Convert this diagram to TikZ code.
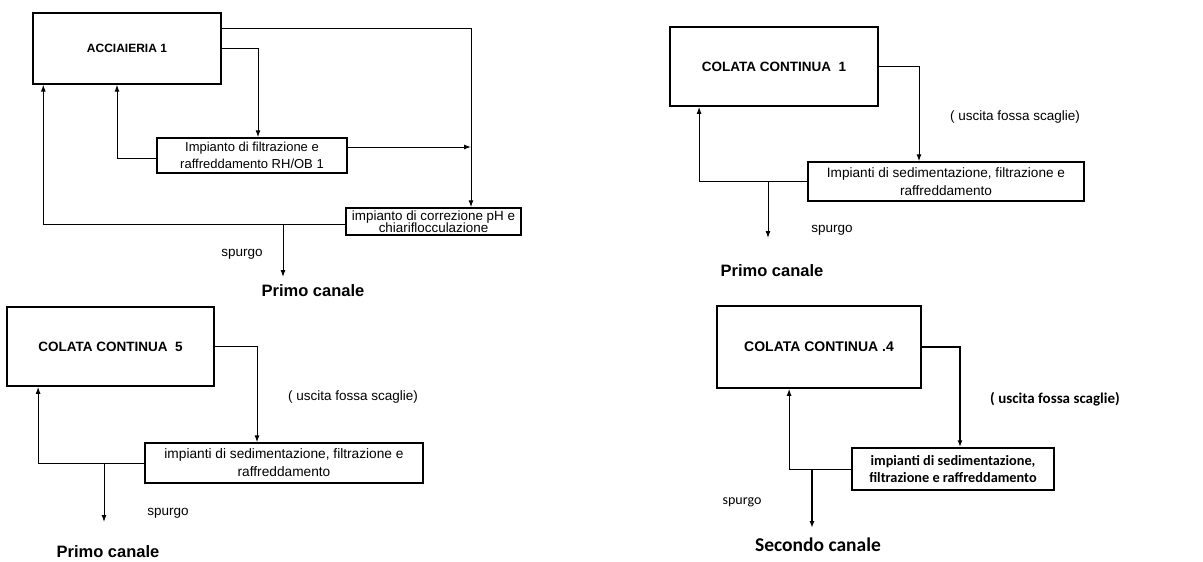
\documentclass[tikz,border=0pt]{standalone}
\usepackage{fontspec}
\setmainfont{Liberation Sans}
\newfontfamily\calfont{Carlito}
\usetikzlibrary{arrows.meta}
\begin{document}
\begin{tikzpicture}[x=1pt,y=-1pt,
  bigbox/.style={draw,line width=1.8pt,inner sep=0pt,font=\fontsize{13.5}{15}\selectfont\bfseries},
  subbox/.style={draw,line width=1.5pt,inner sep=0pt,align=center},
  conn/.style={line width=1pt},
  arr/.style={conn,-{Latex[length=7pt,width=5pt]}},
  lbl/.style={inner sep=0pt,font=\fontsize{13.5}{15}\selectfont},
  canal/.style={inner sep=0pt,font=\fontsize{16.5}{18}\selectfont\bfseries}]
\useasboundingbox (0,0) rectangle (1203,562);

% ---------- top left ----------
\node[bigbox,line width=1.4pt,minimum width=188pt,minimum height=71pt,font=\fontsize{12}{14}\selectfont\bfseries] (acc) at (127,48.5) {ACCIAIERIA 1};
\node[subbox,minimum width=190pt,minimum height=35pt,font=\fontsize{13}{17}\selectfont] (fil) at (252,155.5) {Impianto di filtrazione e\\raffreddamento RH/OB 1};
\node[subbox,minimum width=175pt,minimum height=27pt,font=\fontsize{13.4}{12.5}\selectfont] (ph) at (433.5,221.5) {impianto di correzione pH e\\chiariflocculazione};
\coordinate (jr) at (471,147);
\coordinate (sp1) at (283,224);
\coordinate (out1) at (283,277);
\draw[arr] ([yshift=-16pt]acc.north east) -| ([xshift=37.5pt]ph.north);
\draw[arr] (acc.east) -| ([xshift=6pt]fil.north);
\draw[arr] ([yshift=8.5pt]fil.east) -- (jr);
\draw[arr] ([yshift=-2.5pt]fil.west) -| ([xshift=-10pt]acc.south);
\draw[arr] ([yshift=-2.5pt]ph.west) -| ([xshift=11pt]acc.south west);
\draw[arr] (sp1) -- (out1);
\node[lbl] (spl1) at (242,254) {spurgo};
\node[canal] (pc1) at (313,291) {Primo canale};

% ---------- top right ----------
\node[bigbox,minimum width=208pt,minimum height=79pt] (c1) at (774,66.5) {COLATA CONTINUA\ \ 1};
\node[subbox,minimum width=276pt,minimum height=39pt,font=\fontsize{13.6}{18}\selectfont] (s1) at (946,181.5) {Impianti di sedimentazione, filtrazione e\\raffreddamento};
\coordinate (sp2) at (768,181.5);
\coordinate (out2) at (768,238);
\draw[arr] (c1.east) -| ([xshift=-27pt]s1.north);
\draw[arr] (s1.west) -| ([xshift=30pt]c1.south west);
\draw[arr] (sp2) -- (out2);
\node[lbl] (us1) at (1015,117) {( uscita fossa scaglie)};
\node[lbl] (spl2) at (832,230) {spurgo};
\node[canal] (pc2) at (772,271) {Primo canale};

% ---------- bottom left ----------
\node[bigbox,minimum width=207pt,minimum height=79pt] (c5) at (110.5,346.5) {COLATA CONTINUA\ \ 5};
\node[subbox,minimum width=278pt,minimum height=40pt,font=\fontsize{13.7}{18}\selectfont] (s5) at (284,463) {impianti di sedimentazione, filtrazione e\\raffreddamento};
\coordinate (sp3) at (104,463);
\coordinate (out3) at (104,522);
\draw[arr] (c5.east) -| ([xshift=-27pt]s5.north);
\draw[arr] (s5.west) -| ([xshift=32pt]c5.south west);
\draw[arr] (sp3) -- (out3);
\node[lbl] (us3) at (353,397) {( uscita fossa scaglie)};
\node[lbl] (spl3) at (168,513) {spurgo};
\node[canal] (pc3) at (108,552) {Primo canale};

% ---------- bottom right ----------
\node[bigbox,minimum width=204pt,minimum height=82pt,font=\fontsize{14}{16}\selectfont\bfseries] (c4) at (819,347) {COLATA CONTINUA .4};
\node[subbox,minimum width=202pt,minimum height=42pt,font=\calfont\bfseries\fontsize{14.3}{17}\selectfont] (s4) at (953,469) {impianti di sedimentazione,\\filtrazione e raffreddamento};
\coordinate (sp4) at (812,469);
\coordinate (out4) at (812,528);
\draw[arr,line width=1.8pt] (c4.east) -| ([xshift=7pt]s4.north);
\draw[arr] (s4.west) -| ([xshift=73pt]c4.south west);
\draw[arr,line width=1.4pt] (sp4) -- (out4);
\node[lbl,font=\calfont\bfseries\fontsize{15}{17}\selectfont] (us4) at (1055,399) {( uscita fossa scaglie)};
\node[lbl,font=\calfont\fontsize{14}{16}\selectfont] (spl4) at (742,502) {spurgo};
\node[inner sep=0pt,font=\calfont\bfseries\fontsize{19.5}{22}\selectfont] (sc4) at (818,545) {Secondo canale};
\end{tikzpicture}
\end{document}
